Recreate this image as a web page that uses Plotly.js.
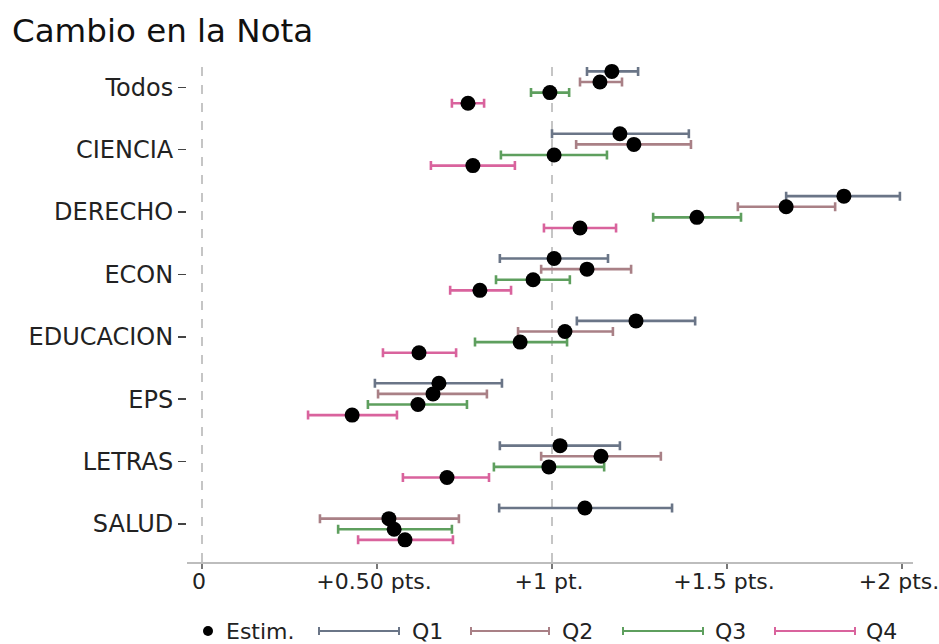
<!DOCTYPE html>
<html>
<head>
<meta charset="utf-8">
<script src="https://cdn.plot.ly/plotly-3.0.1.min.js"></script>
<style>
  html, body { margin: 0; padding: 0; background: #fff; }
  #chart { width: 939px; height: 644px; }
</style>
</head>
<body>
<div id="chart"></div>
<script>
// ---- data ----
const categories = ['Todos', 'CIENCIA', 'DERECHO', 'ECON', 'EDUCACION', 'EPS', 'LETRAS', 'SALUD'];

const q1Est = [1.171, 1.194, 1.834, 1.006, 1.240, 0.677, 1.023, 1.094];
const q1Lo  = [1.100, 1.000, 1.669, 0.851, 1.071, 0.494, 0.851, 0.849];
const q1Hi  = [1.246, 1.391, 1.994, 1.160, 1.409, 0.857, 1.194, 1.343];

const q2Est = [1.137, 1.234, 1.669, 1.100, 1.037, 0.660, 1.140, 0.534];
const q2Lo  = [1.080, 1.069, 1.531, 0.969, 0.903, 0.503, 0.969, 0.337];
const q2Hi  = [1.200, 1.397, 1.809, 1.226, 1.174, 0.814, 1.311, 0.734];

const q3Est = [0.994, 1.006, 1.414, 0.946, 0.909, 0.617, 0.991, 0.549];
const q3Lo  = [0.940, 0.854, 1.289, 0.840, 0.780, 0.474, 0.834, 0.389];
const q3Hi  = [1.049, 1.157, 1.540, 1.051, 1.043, 0.757, 1.149, 0.714];

const q4Est = [0.760, 0.774, 1.080, 0.794, 0.620, 0.429, 0.700, 0.580];
const q4Lo  = [0.714, 0.654, 0.977, 0.709, 0.517, 0.303, 0.574, 0.446];
const q4Hi  = [0.806, 0.894, 1.183, 0.883, 0.726, 0.557, 0.820, 0.717];

const seriesNames = ['Q1', 'Q2', 'Q3', 'Q4'];
const xTickVals = [0, 0.5, 1, 1.5, 2];
const xTickText = ['0', '+0.50 pts.', '+1 pt.', '+1.5 pts.', '+2 pts.'];

// ---- styling ----
const colors = ['#6a7587', '#a98086', '#5e9f5e', '#d9639d'];
const dodge = [-0.255, -0.085, 0.085, 0.255];
const FONT = 'DejaVu Sans, Liberation Sans, sans-serif';

const series = [
  {est: q1Est, lo: q1Lo, hi: q1Hi},
  {est: q2Est, lo: q2Lo, hi: q2Hi},
  {est: q3Est, lo: q3Lo, hi: q3Hi},
  {est: q4Est, lo: q4Lo, hi: q4Hi}
];

const traces = [];
const dotX = [], dotY = [];
series.forEach((s, si) => {
  const ys = categories.map((c, i) => i + dodge[si]);
  traces.push({
    type: 'scatter', mode: 'markers', name: seriesNames[si],
    x: s.est, y: ys,
    marker: {size: 1, color: 'rgba(0,0,0,0)'},
    error_x: {
      type: 'data', symmetric: false,
      array: s.est.map((v, i) => s.hi[i] - v),
      arrayminus: s.est.map((v, i) => v - s.lo[i]),
      color: colors[si], thickness: 2.6, width: 4.5
    },
    showlegend: false, hoverinfo: 'skip'
  });
  s.est.forEach((v, i) => { dotX.push(v); dotY.push(ys[i]); });
});
traces.push({
  type: 'scatter', mode: 'markers', name: 'Estim.',
  x: dotX, y: dotY,
  marker: {size: 15, color: '#000'},
  showlegend: false
});

// plot area in pixels
const L = 187, R = 913, T = 58, B = 562;
const px = v => (v - L) / (R - L);
const py = v => (B - v) / (B - T);

const shapes = [
  {type: 'line', xref: 'x', yref: 'paper', x0: 0, x1: 0, y0: 0, y1: 1,
   line: {color: '#b3b3b3', width: 1.5, dash: 'dash'}, layer: 'below'},
  {type: 'line', xref: 'x', yref: 'paper', x0: 1, x1: 1, y0: 0, y1: 1,
   line: {color: '#b3b3b3', width: 1.5, dash: 'dash'}, layer: 'below'}
];
const annotations = [];

// manual legend
const LY = 631;
shapes.push({type: 'circle', xref: 'paper', yref: 'paper',
  x0: px(203), x1: px(213), y0: py(LY + 5), y1: py(LY - 5),
  fillcolor: '#000', line: {width: 0}});
annotations.push({xref: 'paper', yref: 'paper', x: px(224), y: py(LY), text: 'Estim.',
  showarrow: false, xanchor: 'left', yanchor: 'middle', font: {size: 22, color: '#222', family: FONT}});
const legLines = [[319, 399, 410], [471, 549, 560], [623, 703, 713], [775, 855, 864]];
legLines.forEach((l, i) => {
  const c = colors[i];
  shapes.push({type: 'line', xref: 'paper', yref: 'paper', x0: px(l[0]), x1: px(l[1]), y0: py(LY), y1: py(LY), line: {color: c, width: 2.2}});
  shapes.push({type: 'line', xref: 'paper', yref: 'paper', x0: px(l[0]), x1: px(l[0]), y0: py(LY - 4), y1: py(LY + 4), line: {color: c, width: 2}});
  shapes.push({type: 'line', xref: 'paper', yref: 'paper', x0: px(l[1]), x1: px(l[1]), y0: py(LY - 4), y1: py(LY + 4), line: {color: c, width: 2}});
  annotations.push({xref: 'paper', yref: 'paper', x: px(l[2]), y: py(LY), text: seriesNames[i],
    showarrow: false, xanchor: 'left', yanchor: 'middle', font: {size: 22, color: '#222', family: FONT}});
});

const layout = {
  width: 939, height: 644,
  margin: {l: L, r: 939 - R, t: T, b: 644 - B, pad: 0},
  paper_bgcolor: '#fff', plot_bgcolor: '#fff',
  font: {family: FONT, color: '#222'},
  title: {
    text: 'Cambio en la Nota',
    font: {size: 32.5, color: '#111', family: FONT},
    xref: 'container', x: 12 / 939, xanchor: 'left',
    yref: 'container', y: 1 - 31 / 644, yanchor: 'middle'
  },
  xaxis: {
    range: [(L - 202) / 350, (R - 202) / 350],
    tickvals: xTickVals, ticktext: xTickText,
    tickfont: {size: 22, color: '#222', family: FONT},
    ticklabeloverflow: 'allow', ticklabelstandoff: -6, ticklabelshift: -3,
    showgrid: false, zeroline: false,
    showline: true, linecolor: '#bdbdbd', linewidth: 1.5,
    ticks: 'outside', ticklen: 5, tickwidth: 1.5, tickcolor: '#777'
  },
  yaxis: {
    range: [7.61, -0.47],
    tickvals: categories.map((c, i) => i), ticktext: categories,
    tickfont: {size: 24, color: '#222', family: FONT},
    showgrid: false, zeroline: false, showline: false,
    ticks: 'outside', ticklen: 8, tickwidth: 1.5, tickcolor: '#444'
  },
  shapes: shapes,
  annotations: annotations,
  showlegend: false
};

Plotly.newPlot('chart', traces, layout, {displayModeBar: false, staticPlot: true});
</script>
</body>
</html>
